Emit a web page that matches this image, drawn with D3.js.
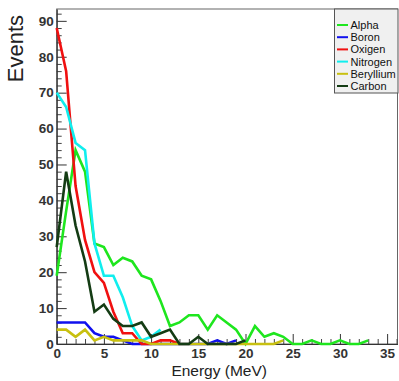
<!DOCTYPE html>
<html>
<head>
<meta charset="utf-8">
<script src="https://cdn.jsdelivr.net/npm/d3@7"></script>
<style>
  body { margin: 0; background: #fff; }
  svg { display: block; }
  text { font-family: "Liberation Sans", Arial, Helvetica, sans-serif; }
</style>
</head>
<body>
<svg id="chart" width="399" height="381"></svg>
<script>
// Energy bins (MeV)
const energies = [0, 1, 2, 3, 4, 5, 6, 7, 8, 9, 10, 11, 12, 13, 14, 15, 16, 17, 18, 19,
                  20, 21, 22, 23, 24, 25, 26, 27, 28, 29, 30, 31, 32, 33];

// Events per bin for each particle
const alphaEvents     = [19, 37, 54, 48, 28, 27, 22, 24, 23, 19, 18, 12, 5, 6, 8, 8, 4, 8, 6, 4,
                         0, 5, 2, 3, 2, 0, 0, 1, 0, 0, 1, 0, 0, 1];
const boronEvents     = [6, 6, 6, 6, 3, 2, 2, 1, 0, 0, 0, 0, 0, 0, 0, 0, 0, 1, 0, 1];
const oxigenEvents    = [88, 76, 44, 29, 20, 17, 9, 3, 3, 0, 0, 1, 1, 0];
const nitrogenEvents  = [70, 66, 56, 54, 28, 19, 19, 13, 5, 1, 2, 4];
const berylliumEvents = [4, 4, 2, 4, 1, 2, 1, 1, 1, 1, 0, 0, 0, 0, 0, 0, 0, 0, 0, 0,
                         0, 0, 0, 0, 1];
const carbonEvents    = [27, 48, 33, 23, 9, 11, 7, 5, 5, 6, 2, 3, 4, 0, 0, 2, 0, 0, 0, 0, 1];

const seriesNames  = ["Alpha", "Boron", "Oxigen", "Nitrogen", "Beryllium", "Carbon"];
const seriesValues = [alphaEvents, boronEvents, oxigenEvents, nitrogenEvents, berylliumEvents, carbonEvents];
const seriesColors = ["#1ee61e", "#1010ee", "#f01010", "#10eeee", "#c8c010", "#143c14"];

const xTickValues = [0, 5, 10, 15, 20, 25, 30, 35];
const yTickValues = [0, 10, 20, 30, 40, 50, 60, 70, 80, 90];

const series = seriesNames.map((name, i) => ({
  name,
  color: seriesColors[i],
  points: seriesValues[i].map((v, j) => ({ e: energies[j], v }))
}));

const svg = d3.select("#chart");

const frame = { left: 56.7, right: 397.5, top: 9, bottom: 344 };
const x = d3.scaleLinear().domain([0, 36.1]).range([frame.left, frame.right]);
const y = d3.scaleLinear().domain([0, 93.3]).range([frame.bottom, frame.top]);

// Frame
svg.append("rect")
  .attr("x", frame.left).attr("y", frame.top)
  .attr("width", frame.right - frame.left).attr("height", frame.bottom - frame.top)
  .attr("fill", "#fff").attr("stroke", "#666").attr("stroke-width", 1);

// Minor ticks (inside the frame)
const xMinor = d3.range(0, 36.01, 1).filter(v => !xTickValues.includes(v));
const yMinor = d3.range(0, 93, 2).filter(v => !yTickValues.includes(v));

svg.append("g")
  .attr("transform", `translate(0,${frame.bottom})`)
  .call(d3.axisBottom(x).tickValues(xMinor).tickSize(-5).tickFormat(""))
  .call(g => g.select(".domain").remove())
  .call(g => g.selectAll("line").attr("stroke", "#444"));

svg.append("g")
  .attr("transform", `translate(${frame.left},0)`)
  .call(d3.axisLeft(y).tickValues(yMinor).tickSize(-5).tickFormat(""))
  .call(g => g.select(".domain").remove())
  .call(g => g.selectAll("line").attr("stroke", "#444"));

// Major axes
const xAxis = svg.append("g")
  .attr("transform", `translate(0,${frame.bottom})`)
  .call(d3.axisBottom(x).tickValues(xTickValues).tickSize(-10).tickSizeOuter(0).tickPadding(4));

const yAxis = svg.append("g")
  .attr("transform", `translate(${frame.left},0)`)
  .call(d3.axisLeft(y).tickValues(yTickValues).tickSize(-10).tickSizeOuter(0).tickPadding(3));

[xAxis, yAxis].forEach(g => {
  g.select(".domain").attr("stroke", "#333").attr("stroke-width", 1.2);
  g.selectAll(".tick line").attr("stroke", "#333");
  g.selectAll(".tick text")
    .attr("fill", "#333")
    .style("font-size", "13.5px")
    .style("font-weight", "bold")
    .style("font-family", "'Liberation Sans', Arial, sans-serif");
});

// Axis titles
svg.append("text")
  .attr("x", 267).attr("y", 376)
  .attr("text-anchor", "end")
  .attr("fill", "#222")
  .style("font-size", "15.5px")
  .text("Energy (MeV)");

svg.append("text")
  .attr("transform", "translate(23,15) rotate(-90)")
  .attr("text-anchor", "end")
  .attr("fill", "#222")
  .style("font-size", "22px")
  .text("Events");

// Series lines
const line = d3.line().x(d => x(d.e)).y(d => y(d.v));

svg.append("g")
  .selectAll("path")
  .data(series)
  .join("path")
  .attr("d", d => line(d.points))
  .attr("fill", "none")
  .attr("stroke", d => d.color)
  .attr("stroke-width", 2.6);

// Legend
const legend = svg.append("g");
legend.append("rect")
  .attr("x", 334.5).attr("y", 9)
  .attr("width", 63.5).attr("height", 84)
  .attr("fill", "#f0f0f0").attr("stroke", "#555").attr("stroke-width", 1);

const entry = legend.selectAll("g.entry")
  .data(series)
  .join("g")
  .attr("class", "entry")
  .attr("transform", (d, i) => `translate(0,${25 + i * 12.2})`);

entry.append("line")
  .attr("x1", 337).attr("x2", 348)
  .attr("y1", 0).attr("y2", 0)
  .attr("stroke", d => d.color)
  .attr("stroke-width", 2);

entry.append("text")
  .attr("x", 350.5).attr("y", 4)
  .attr("fill", "#111")
  .style("font-size", "11px")
  .text(d => d.name);
</script>
</body>
</html>
